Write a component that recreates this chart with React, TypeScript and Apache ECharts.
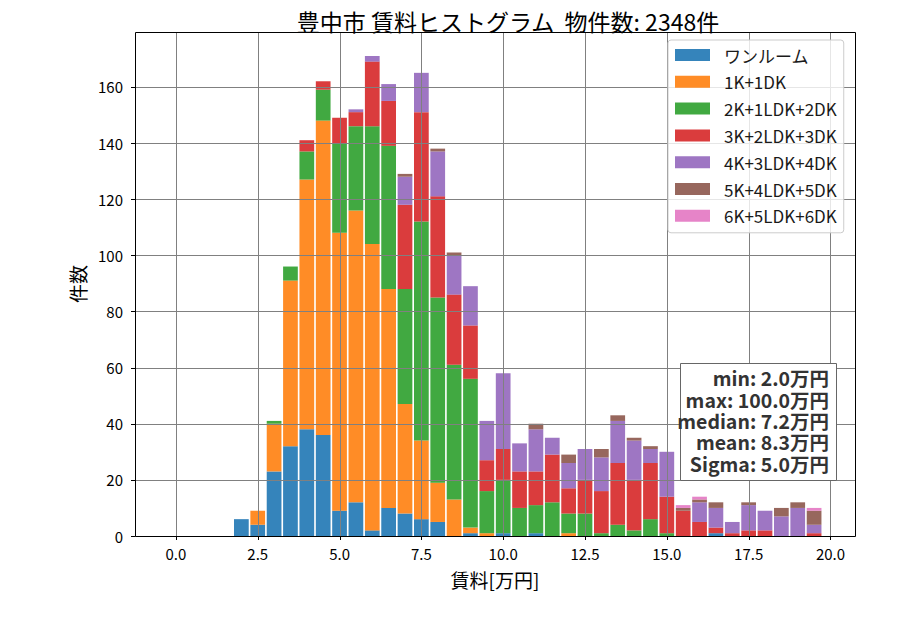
import React, { useEffect, useRef } from 'react';
import * as echarts from 'echarts';

// Histogram bin centers (万円), bin width 0.5
const bins = [
  '0.0', '0.5', '1.0', '1.5', '2.0', '2.5', '3.0', '3.5', '4.0', '4.5',
  '5.0', '5.5', '6.0', '6.5', '7.0', '7.5', '8.0', '8.5', '9.0', '9.5',
  '10.0', '10.5', '11.0', '11.5', '12.0', '12.5', '13.0', '13.5', '14.0', '14.5',
  '15.0', '15.5', '16.0', '16.5', '17.0', '17.5', '18.0', '18.5', '19.0', '19.5',
];
// empty margin slots on each side of the axis (matplotlib auto margin)
const padLeft = ['-1.0', '-0.5'];
const padRight = ['20.0', '20.5'];

const xTickLabels = ['0.0', '2.5', '5.0', '7.5', '10.0', '12.5', '15.0', '17.5', '20.0'];
const yTicks = [0, 20, 40, 60, 80, 100, 120, 140, 160];

const seriesNames = [
  'ワンルーム', '1K+1DK', '2K+1LDK+2DK', '3K+2LDK+3DK', '4K+3LDK+4DK', '5K+4LDK+5DK', '6K+5LDK+6DK',
];

const oneRoom = [
  0, 0, 0, 0, 6, 4, 23, 32, 38, 36,
  9, 12, 2, 10, 8, 6, 5, 0, 1, 0,
  1, 0, 1, 0, 0, 0, 0, 0, 0, 0,
  0, 0, 0, 1, 0, 0, 0, 0, 0, 0,
];
const k1dk = [
  0, 0, 0, 0, 0, 5, 17, 59, 89, 112,
  99, 104, 102, 78, 39, 28, 14, 13, 2, 1,
  0, 0, 0, 0, 1, 0, 0, 0, 0, 0,
  0, 0, 0, 0, 0, 0, 0, 0, 0, 0,
];
const k2dk = [
  0, 0, 0, 0, 0, 0, 1, 5, 10, 11,
  32, 30, 42, 51, 41, 78, 66, 48, 53, 15,
  19, 10, 10, 12, 7, 8, 1, 4, 2, 6,
  1, 0, 0, 0, 0, 0, 0, 0, 0, 0,
];
const k3dk = [
  0, 0, 0, 0, 0, 0, 0, 0, 4, 3,
  9, 5, 23, 16, 30, 39, 36, 25, 19, 11,
  11, 13, 12, 17, 9, 12, 15, 22, 18, 20,
  13, 9, 5, 2, 1, 2, 2, 0, 0, 1,
];
const k4dk = [
  0, 0, 0, 0, 0, 0, 0, 0, 0, 0,
  0, 1, 2, 6, 10, 14, 16, 14, 14, 14,
  27, 10, 15, 6, 9, 11, 12, 15, 14, 5,
  16, 0, 7, 7, 4, 9, 7, 7, 10, 3,
];
const k5dk = [
  0, 0, 0, 0, 0, 0, 0, 0, 0, 0,
  0, 0, 0, 0, 1, 0, 1, 1, 0, 0,
  0, 0, 2, 0, 3, 0, 3, 2, 1, 1,
  0, 1, 1, 2, 0, 1, 0, 3, 2, 5,
];
const k6dk = [
  0, 0, 0, 0, 0, 0, 0, 0, 0, 0,
  0, 0, 0, 0, 0, 0, 0, 0, 0, 0,
  0, 0, 0, 0, 0, 0, 0, 0, 0, 0,
  0, 1, 1, 0, 0, 0, 0, 0, 0, 1,
];
const seriesValues = [oneRoom, k1dk, k2dk, k3dk, k4dk, k5dk, k6dk];
const colors = ['#1f77b4', '#ff7f0e', '#2ca02c', '#d62728', '#9467bd', '#8c564b', '#e377c2'];

const statsLines = ['min: 2.0万円', 'max: 100.0万円', 'median: 7.2万円', 'mean: 8.3万円', 'Sigma: 5.0万円'];
const titleText = '豊中市 賃料ヒストグラム  物件数: 2348件';

const FONT = '"Noto Sans CJK JP", "Noto Sans", sans-serif';

export default function App() {
  const ref = useRef<HTMLDivElement>(null);
  useEffect(() => {
    if (!ref.current) return;
    const chart = echarts.init(ref.current, null, { renderer: 'svg' });

    const barSeries = seriesNames.map((name, si) => ({
      type: 'bar',
      name,
      stack: 'all',
      barWidth: '90%',
      itemStyle: { color: colors[si], opacity: 0.9 },
      emphasis: { disabled: true },
      data: bins.map((b, i) => [b, seriesValues[si][i]]),
      z: 2,
    }));

    const statsTexts = statsLines.map((line, i) => ({
      type: 'text',
      z: 11,
      x: 829,
      y: 377.7 + i * 21.4,
      style: {
        text: line,
        align: 'right',
        verticalAlign: 'middle',
        fontSize: 19.5,
        lineHeight: 20,
        fontWeight: 'bold',
        fill: '#333333',
        fontFamily: FONT,
      },
    }));

    const option: any = {
      animation: false,
      textStyle: { fontFamily: FONT },
      title: {
        text: titleText,
        left: 503,
        top: 4,
        textAlign: 'center',
        textStyle: { fontSize: 23, fontWeight: 'normal', color: '#000', fontFamily: FONT },
      },
      grid: { left: 135, right: 45, top: 32, bottom: 94, containLabel: false },
      legend: {
        data: seriesNames,
        orient: 'vertical',
        left: 668,
        top: 40,
        padding: [5, 7, 7, 7],
        itemWidth: 35,
        itemHeight: 12,
        itemGap: 6.8,
        icon: 'rect',
        backgroundColor: 'rgba(255,255,255,0.8)',
        borderColor: '#cccccc',
        borderWidth: 1,
        borderRadius: 3,
        selectedMode: false,
        textStyle: { fontSize: 17, color: '#1a1a1a', fontFamily: FONT, lineHeight: 20, padding: [0, 0, 0, 9] },
      },
      xAxis: {
        type: 'category',
        data: [...padLeft, ...bins, ...padRight],
        boundaryGap: true,
        name: '賃料[万円]',
        nameLocation: 'middle',
        nameGap: 34,
        nameTextStyle: { fontSize: 19, color: '#000', fontFamily: FONT },
        axisLine: { show: false },
        axisTick: { show: false },
        splitLine: { show: false },
        axisLabel: {
          interval: (_idx: number, value: string) => xTickLabels.includes(value),
          fontSize: 15,
          color: '#000',
          margin: 10,
          fontFamily: FONT,
        },
      },
      yAxis: {
        type: 'value',
        min: 0,
        max: 179.55,
        interval: 20,
        name: '件数',
        nameLocation: 'middle',
        nameGap: 48,
        nameTextStyle: { fontSize: 19, color: '#000', fontFamily: FONT },
        axisLine: { show: false },
        axisTick: { show: false },
        splitLine: { show: false },
        axisLabel: { fontSize: 15, color: '#000', margin: 12, showMaxLabel: false, fontFamily: FONT },
      },
      series: [
        ...barSeries,
        {
          type: 'custom',
          name: 'xgrid',
          z: 3,
          silent: true,
          data: xTickLabels.map((t) => [t, 0]),
          renderItem: (params: any, api: any) => {
            const cs = params.coordSys;
            const x = Math.round(api.coord([api.value(0), 0])[0]) + 0.5;
            const bottom = cs.y + cs.height;
            const children: any[] = [
              { type: 'line', shape: { x1: x, y1: cs.y, x2: x, y2: bottom }, style: { stroke: '#808080', lineWidth: 1 } },
              { type: 'line', shape: { x1: x, y1: bottom, x2: x, y2: bottom + 4 }, style: { stroke: '#000', lineWidth: 1 } },
            ];
            if (params.dataIndex === 0) {
              children.push({
                type: 'rect',
                shape: { x: Math.round(cs.x) + 0.5, y: Math.round(cs.y) + 0.5, width: Math.round(cs.width), height: Math.round(cs.height) },
                style: { stroke: '#000', fill: 'none', lineWidth: 1 },
                z2: 10,
              });
            }
            return { type: 'group', children };
          },
        },
        {
          type: 'custom',
          name: 'ygrid',
          z: 3,
          silent: true,
          data: yTicks.map((v) => ['0.0', v]),
          renderItem: (params: any, api: any) => {
            const cs = params.coordSys;
            const y = Math.round(api.coord([api.value(0), api.value(1)])[1]) + 0.5;
            return {
              type: 'group',
              children: [
                { type: 'line', shape: { x1: cs.x, y1: y, x2: cs.x + cs.width, y2: y }, style: { stroke: '#808080', lineWidth: 1 } },
                { type: 'line', shape: { x1: cs.x - 4, y1: y, x2: cs.x, y2: y }, style: { stroke: '#000', lineWidth: 1 } },
              ],
            };
          },
        },
      ],
      graphic: [
        {
          type: 'group',
          z: 10,
          children: [
            {
              type: 'rect',
              z: 10,
              shape: { x: 680.5, y: 363.5, width: 156, height: 117, r: 0 },
              style: { fill: '#ffffff', stroke: '#666666', lineWidth: 1 },
            },
            ...statsTexts,
          ],
        },
      ],
    };
    chart.setOption(option);
    return () => chart.dispose();
  }, []);
  return <div ref={ref} style={{ width: 900, height: 630, margin: -8 }} />;
}
